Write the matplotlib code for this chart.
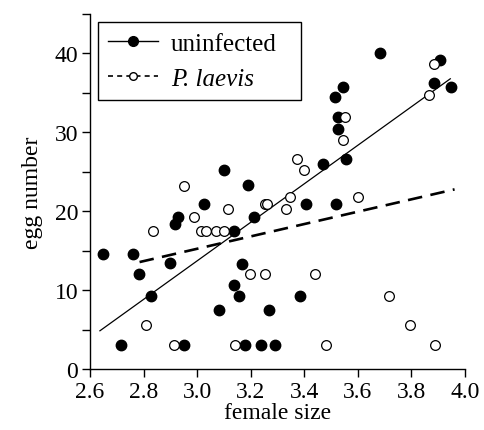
import numpy as np
import matplotlib
matplotlib.use('Agg')
import matplotlib.pyplot as plt
from matplotlib.lines import Line2D
from matplotlib.ticker import MultipleLocator

plt.rcParams['font.family'] = ['Liberation Serif', 'DejaVu Serif']
plt.rcParams['font.size'] = 17

# uninfected females: size, egg number
unin_size = [2.648, 2.715, 2.762, 2.782, 2.828, 2.897, 2.918, 2.93, 2.952, 3.027,
             3.08, 3.099, 3.137, 3.139, 3.155, 3.168, 3.18, 3.189, 3.214, 3.237,
             3.27, 3.29, 3.384, 3.405, 3.468, 3.514, 3.52, 3.524, 3.525, 3.543,
             3.555, 3.684, 3.886, 3.907, 3.946]
unin_eggs = [14.6, 3.1, 14.6, 12.1, 9.3, 13.5, 18.4, 19.3, 3.1, 20.9,
             7.5, 25.3, 17.5, 10.7, 9.3, 13.4, 3.1, 23.3, 19.3, 3.1,
             7.5, 3.1, 9.3, 20.9, 26.0, 34.5, 20.9, 31.9, 30.4, 35.8,
             26.6, 40.0, 36.3, 39.2, 35.8]

# P. laevis infected females
inf_size = [2.81, 2.837, 2.912, 2.952, 2.987, 3.016, 3.034, 3.072, 3.102, 3.114,
            3.143, 3.197, 3.255, 3.255, 3.262, 3.33, 3.345, 3.372, 3.40, 3.439,
            3.48, 3.543, 3.551, 3.601, 3.717, 3.796, 3.865, 3.884, 3.888]
inf_eggs = [5.6, 17.5, 3.1, 23.2, 19.3, 17.5, 17.5, 17.5, 17.5, 20.3,
            3.1, 12.1, 12.1, 21.0, 20.9, 20.3, 21.8, 26.7, 25.3, 12.1,
            3.1, 29.0, 31.9, 21.8, 9.3, 5.6, 34.8, 38.7, 3.1]

# regression lines (end points)
unin_fit_x = [2.637, 3.945]
unin_fit_y = [4.9, 36.8]
inf_fit_x = [2.785, 3.961]
inf_fit_y = [13.6, 22.8]

fig = plt.figure(figsize=(4.85, 4.31), dpi=100)
ax = fig.add_axes([0.1856, 0.1404, 0.7732, 0.8248])

ax.plot(unin_fit_x, unin_fit_y, color='k', lw=0.9)
ax.plot(inf_fit_x, inf_fit_y, color='k', lw=1.9, dashes=(5.5, 3.2))
ax.plot(unin_size, unin_eggs, 'o', color='k', ms=7.5, ls='none')
ax.plot(inf_size, inf_eggs, 'o', mfc='white', mec='k', mew=0.9, ms=7.0, ls='none')

ax.set_xlim(2.6, 4.0)
ax.set_ylim(0, 45)
ax.xaxis.set_major_locator(MultipleLocator(0.2))
ax.yaxis.set_major_locator(MultipleLocator(10))
ax.yaxis.set_minor_locator(MultipleLocator(5))
ax.xaxis.set_major_formatter(matplotlib.ticker.FormatStrFormatter('%.1f'))
ax.tick_params(which='both', direction='out', length=6, width=1, labelsize=17, pad=2.5)
ax.spines['top'].set_visible(False)
ax.spines['right'].set_visible(False)
for s in ['left', 'bottom']:
    ax.spines[s].set_linewidth(1)
ax.set_xlabel('female size', fontsize=17, labelpad=0)
ax.set_ylabel('egg number', fontsize=17, labelpad=8)

handles = [Line2D([], [], color='k', lw=1, marker='o', ms=7),
           Line2D([], [], color='k', lw=1.2, ls='--', dashes=(3, 2.5), marker='o',
                  mfc='white', mec='k', ms=5.5)]
leg = ax.legend(handles, ['uninfected', 'P. laevis'], loc='upper left',
                bbox_to_anchor=(0.022, 0.77, 0.54, 0.207), mode='expand',
                borderaxespad=0, fancybox=False,
                edgecolor='k', framealpha=1, handlelength=2.0, handletextpad=0.5,
                borderpad=0.4, labelspacing=0.5, fontsize=18)
leg.get_frame().set_linewidth(1)
leg.get_texts()[1].set_fontstyle('italic')

fig.savefig('out.png', dpi=100)
